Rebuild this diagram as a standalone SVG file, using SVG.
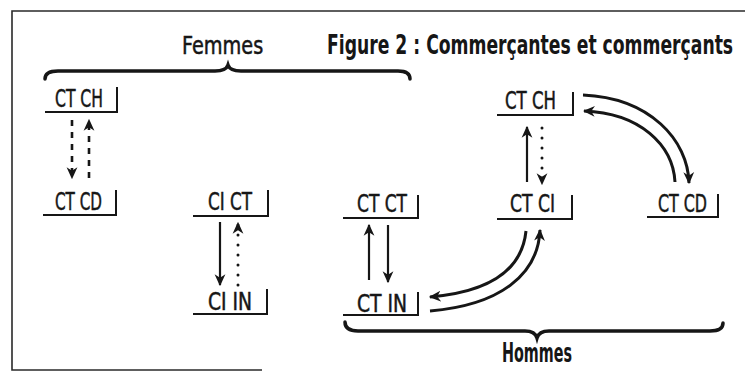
<svg xmlns="http://www.w3.org/2000/svg" width="745" height="373" viewBox="0 0 745 373">
<defs>
<marker id="ah" markerUnits="userSpaceOnUse" markerWidth="12" markerHeight="12" viewBox="0 0 10 10" refX="9" refY="5" orient="auto">
<path d="M0,0.5 L10,5 L0,9.5 L3,5 z" fill="#161616"/>
</marker>
<style>
.lbl{font-family:"DejaVu Sans Condensed","DejaVu Sans",sans-serif;font-size:24px;fill:#161616;stroke:#161616;stroke-width:0.5}
.ttl{font-family:"DejaVu Sans Condensed","DejaVu Sans",sans-serif;font-size:27px;font-weight:bold;fill:#161616}
.box{fill:none;stroke:#161616;stroke-width:2}
.solid{fill:none;stroke:#161616;stroke-width:2.2;marker-end:url(#ah)}
.dash{fill:none;stroke:#161616;stroke-width:2.6;stroke-dasharray:6 6;marker-end:url(#ah)}
.dot{fill:none;stroke:#161616;stroke-width:3;stroke-linecap:round;stroke-dasharray:0 10;marker-end:url(#ah)}
.curve{fill:none;stroke:#161616;stroke-width:3;marker-end:url(#ah)}
.brace{fill:none;stroke:#161616;stroke-width:3.5;stroke-linecap:round}
</style>
</defs>
<rect width="745" height="373" fill="#ffffff"/>
<path d="M745,11 H12 V370 H262" fill="none" stroke="#2a2a2a" stroke-width="1.6"/>
<g id="title">
<text class="ttl" transform="translate(327,54) scale(0.62,1)" x="0" y="0" textLength="655" lengthAdjust="spacingAndGlyphs">Figure 2 : Commerçantes et commerçants</text>
</g>
<g id="femmes">
<text class="lbl" transform="translate(182,54) scale(0.7,1)" x="0" y="0" font-size="25" textLength="116" lengthAdjust="spacingAndGlyphs">Femmes</text>
<path class="brace" d="M45,79 Q45,71 58,71 L215,71 Q226,71 228,65 Q230,71 241,71 L398,71 Q410,71 410,79"/>
</g>
<g id="hommes">
<text class="ttl" transform="translate(502,362) scale(0.7,1)" x="0" y="0" font-size="26" textLength="100" lengthAdjust="spacingAndGlyphs">Hommes</text>
<path class="brace" d="M345,322 Q345,331 358,331 L525,331 Q535,331 537,338 Q539,331 549,331 L710,331 Q723,331 723,323"/>
</g>
<g id="f-ctch">
<text class="lbl" x="55" y="107" textLength="48" lengthAdjust="spacingAndGlyphs">CT CH</text>
<path class="box" d="M45,112 H117 V87"/>
</g>
<g id="f-ctcd">
<text class="lbl" x="55" y="210" textLength="47" lengthAdjust="spacingAndGlyphs">CT CD</text>
<path class="box" d="M43,215 H116 V190"/>
</g>
<g id="cict">
<text class="lbl" x="208" y="210" textLength="44" lengthAdjust="spacingAndGlyphs">CI CT</text>
<path class="box" d="M193,216 H268 V190"/>
</g>
<g id="ciin">
<text class="lbl" x="208" y="310" textLength="44" lengthAdjust="spacingAndGlyphs">CI IN</text>
<path class="box" d="M193,314 H267 V289"/>
</g>
<g id="ctct">
<text class="lbl" x="357" y="212" textLength="50" lengthAdjust="spacingAndGlyphs">CT CT</text>
<path class="box" d="M343,218 H418 V195"/>
</g>
<g id="ctin">
<text class="lbl" x="357" y="312" textLength="50" lengthAdjust="spacingAndGlyphs">CT IN</text>
<path class="box" d="M343,315 H418 V292"/>
</g>
<g id="h-ctch">
<text class="lbl" x="505" y="109" textLength="51" lengthAdjust="spacingAndGlyphs">CT CH</text>
<path class="box" d="M497,115 H573 V92"/>
</g>
<g id="h-ctci">
<text class="lbl" x="510" y="212" textLength="45" lengthAdjust="spacingAndGlyphs">CT CI</text>
<path class="box" d="M497,219 H572 V195"/>
</g>
<g id="h-ctcd">
<text class="lbl" x="658" y="212" textLength="49" lengthAdjust="spacingAndGlyphs">CT CD</text>
<path class="box" d="M647,217 H718 V194"/>
</g>
<g id="connectors">
<path class="dash" d="M72,120 V178"/>
<path class="dash" d="M89,178 V120"/>
<path class="solid" d="M220,222 V285"/>
<path class="dot" d="M238,285 V223"/>
<path class="solid" d="M369,280 V225"/>
<path class="solid" d="M388,225 V282"/>
<path class="solid" d="M527,182 V127"/>
<path class="dot" d="M542,128 V184"/>
<path class="curve" d="M526,231 C522,270 490,292 430,297"/>
<path class="curve" d="M430,311 C500,305 538,275 540,230"/>
<path class="curve" d="M583,95 C650,98 688,140 689,183"/>
<path class="curve" d="M675,182 C673,145 640,113 584,111"/>
</g>
</svg>
